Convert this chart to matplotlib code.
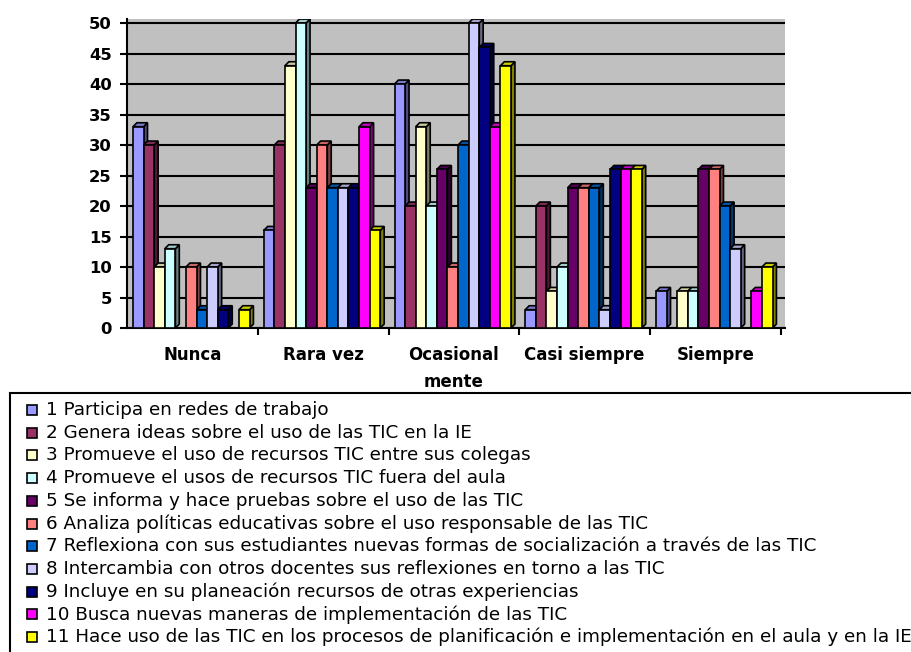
import matplotlib.pyplot as plt
import numpy as np
from matplotlib.patches import Polygon, Rectangle
from matplotlib import colors as mcolors

plt.rcParams['font.family'] = ['DejaVu Sans']

categories = ['Nunca', 'Rara vez', 'Ocasional\nmente', 'Casi siempre', 'Siempre']

series_labels = [
    '1 Participa en redes de trabajo',
    '2 Genera ideas sobre el uso de las TIC en la IE',
    '3 Promueve el uso de recursos TIC entre sus colegas',
    '4 Promueve el usos de recursos TIC fuera del aula',
    '5 Se informa y hace pruebas sobre el uso de las TIC',
    '6 Analiza políticas educativas sobre el uso responsable de las TIC',
    '7 Reflexiona con sus estudiantes nuevas formas de socialización a través de las TIC',
    '8 Intercambia con otros docentes sus reflexiones en torno a las TIC',
    '9 Incluye en su planeación recursos de otras experiencias',
    '10 Busca nuevas maneras de implementación de las TIC',
    '11 Hace uso de las TIC en los procesos de planificación e implementación en el aula y en la IE',
]

# values per series, in order Nunca, Rara vez, Ocasionalmente, Casi siempre, Siempre
s1 = [33, 16, 40, 3, 6]
s2 = [30, 30, 20, 20, 0]
s3 = [10, 43, 33, 6, 6]
s4 = [13, 50, 20, 10, 6]
s5 = [0, 23, 26, 23, 26]
s6 = [10, 30, 10, 23, 26]
s7 = [3, 23, 30, 23, 20]
s8 = [10, 23, 50, 3, 13]
s9 = [3, 23, 46, 26, 0]
s10 = [0, 33, 33, 26, 6]
s11 = [3, 16, 43, 26, 10]
values = [s1, s2, s3, s4, s5, s6, s7, s8, s9, s10, s11]

bar_colors = ['#9999FF', '#993366', '#FFFFCC', '#CCFFFF', '#660066', '#FF8080',
              '#0066CC', '#CCCCFF', '#000080', '#FF00FF', '#FFFF00']

fig = plt.figure(figsize=(9.11, 6.52), dpi=100)
ax = fig.add_axes([127/911, 1-328/652, 658/911, 309/652])
ax.set_facecolor('#C0C0C0')

w = 0.081   # bar width in category units
off = 0.046  # gap before first bar
dx = 0.03   # depth offset x
dy = 0.65   # depth offset y

def shade(c, f):
    r, g, b = mcolors.to_rgb(c)
    return (r*f, g*f, b*f)

for k in range(len(categories)):
    for i in range(len(values)):
        v = values[i][k]
        if v <= 0:
            continue
        x0 = k - 0.5 + off + i*w
        c = bar_colors[i]
        # side face
        ax.add_patch(Polygon([[x0+w, 0], [x0+w+dx, dy], [x0+w+dx, v+dy], [x0+w, v]],
                             closed=True, facecolor=shade(c, 0.5), edgecolor='black',
                             linewidth=1.2, zorder=3))
        # top face
        ax.add_patch(Polygon([[x0, v], [x0+dx, v+dy], [x0+w+dx, v+dy], [x0+w, v]],
                             closed=True, facecolor=shade(c, 0.8), edgecolor='black',
                             linewidth=1.2, zorder=3))
        # front face
        ax.add_patch(Rectangle((x0, 0), w, v, facecolor=c, edgecolor='black',
                               linewidth=1.2, zorder=4))

ax.set_xlim(-0.5, len(categories) - 0.5 + 0.0325)
ax.set_ylim(0, 50.66)
ax.set_yticks(np.arange(0, 51, 5))
ax.yaxis.grid(True, color='black', linewidth=1.5, zorder=0)
ax.set_axisbelow(True)
for lbl in ax.get_yticklabels():
    lbl.set_fontweight('bold')
    lbl.set_fontsize(11.8)
ax.tick_params(axis='y', length=5, width=1.5, pad=6)

ax.set_xticks(np.arange(len(categories)))
ax.set_xticklabels(categories, fontsize=12, fontweight='bold', linespacing=1.65)
ax.tick_params(axis='x', which='major', length=0, pad=13)
ax.set_xticks(np.arange(len(categories) + 1)[1:] - 0.5, minor=True)
ax.tick_params(axis='x', which='minor', length=5, width=1.5)

ax.spines['top'].set_visible(False)
ax.spines['right'].set_visible(False)
ax.spines['left'].set_linewidth(1.5)
ax.spines['bottom'].set_linewidth(1.5)

# legend box, running off the right and bottom edge like the original
fig.patches.append(Rectangle((10/911, -0.05), 1.0, 1-393/652+0.05, transform=fig.transFigure,
                             facecolor='white', edgecolor='black', linewidth=1.5))
row0 = 410
step = 22.7
texts = []
for i, lab in enumerate(series_labels):
    yc = row0 + i*step
    fig.patches.append(Rectangle((27/911, 1-(yc+5)/652), 10/911, 10/652,
                                 transform=fig.transFigure, facecolor=bar_colors[i],
                                 edgecolor='black', linewidth=1.2))
    texts.append(fig.text(46/911, 1-yc/652, lab, fontsize=13, va='center', ha='left'))

# fit the legend text so the longest line ends near the right edge
r = fig.canvas.get_renderer()
widest = max(t.get_window_extent(r).width for t in texts)
size = 13 * 864 / widest
for t in texts:
    t.set_fontsize(size)

fig.savefig('out.png', dpi=100)
